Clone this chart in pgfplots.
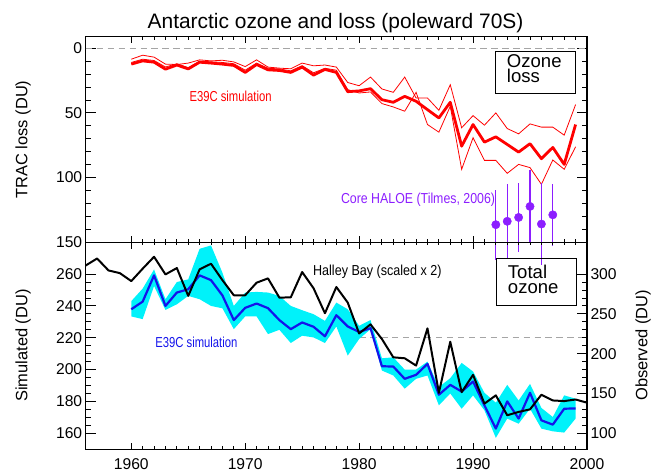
\documentclass[border=0pt]{standalone}
\usepackage{pgfplots}
\pgfplotsset{compat=1.18}
\usepackage{pgfplotstable}
\usepackage{fontspec}
\setmainfont{Liberation Sans}
\definecolor{haloe}{RGB}{140,30,255}
\definecolor{dashgray}{RGB}{165,165,165}
\definecolor{simblue}{RGB}{20,20,235}
\definecolor{band}{RGB}{0,242,250}

% TRAC ozone loss (DU): ensemble mean and two members
\pgfplotstableread{
year mean memA memB
1960 12.3 8.5 11.0
1961 9.8 5.4 8.5
1962 10.8 6.9 9.5
1963 16.2 12.3 14.5
1964 13.0 12.6 12.0
1965 16.0 11.5 15.0
1966 10.8 9.0 10.0
1967 11.5 9.8 10.5
1968 12.3 9.3 11.0
1969 13.3 10.6 12.0
1970 18.7 14.2 17.0
1971 12.6 9.0 11.5
1972 16.7 14.6 15.5
1973 17.2 15.4 16.0
1974 18.7 15.9 17.5
1975 14.6 11.5 13.5
1976 20.8 13.6 19.0
1977 16.4 13.0 15.5
1978 18.7 14.6 17.0
1979 33.6 26.5 32.0
1980 33.0 29.0 34.6
1981 31.3 22.3 33.8
1982 39.8 31.5 42.8
1983 41.8 34.1 45.4
1984 37.2 22.3 48.7
1985 41.0 38.5 34.1
1986 47.5 38.5 59.0
1987 53.9 48.0 64.9
1988 41.8 28.2 44.9
1989 75.7 61.5 93.6
1990 59.0 52.1 69.2
1991 72.6 59.5 86.7
1992 68.5 50.0 86.7
1993 74.4 62.1 96.7
1994 80.3 66.2 89.8
1995 73.8 58.5 92.3
1996 85.4 61.0 105.2
1997 76.7 61.0 86.4
1998 89.8 67.2 93.6
1999 59.0 43.6 76.2
}\losstab

% Core HALOE (Tilmes, 2006)
\pgfplotstableread{
year loss err
1992 136.4 27
1993 133.8 28.5
1994 130.8 26.5
1995 122.3 28
1996 135.9 32
1997 128.8 24
}\haloetab

% E39C simulated total ozone (DU): ensemble mean
\pgfplotstableread{
year mean
1960 237.9
1961 242.7
1962 259.2
1963 240.0
1964 248.4
1965 250.5
1966 259.2
1967 256.2
1968 246.6
1969 231.1
1970 238.8
1971 241.5
1972 238.6
1973 231.1
1974 225.4
1975 229.6
1976 226.9
1977 220.9
1978 234.2
1979 227.1
1980 223.6
1981 226.0
1982 202.1
1983 201.9
1984 194.2
1985 196.7
1986 203.6
1987 184.2
1988 190.4
1989 186.2
1990 192.5
1991 177.5
1992 162.9
1993 180.0
1994 169.2
1995 185.4
1996 168.1
1997 165.4
1998 175.4
1999 175.6
}\simtab

% E39C range: upper edge 1960->1999, then lower edge 1999->1960
\pgfplotstableread{
year val
1960 243.0
1961 250.9
1962 262.9
1963 244.2
1964 255.0
1965 256.7
1966 275.9
1967 278.0
1968 260.9
1969 240.0
1970 248.4
1971 248.8
1972 248.4
1973 246.3
1974 240.0
1975 237.3
1976 234.8
1977 230.6
1978 242.1
1979 237.9
1980 227.5
1981 231.1
1982 207.1
1983 207.7
1984 200.0
1985 200.0
1986 205.0
1987 189.0
1988 194.6
1989 204.2
1990 198.8
1991 185.4
1992 179.2
1993 190.4
1994 180.6
1995 191.0
1996 175.9
1997 170.2
1998 183.8
1999 181.7
1999 169.2
1998 160.4
1997 161.2
1996 162.9
1995 175.4
1994 166.0
1993 169.2
1992 157.1
1991 174.4
1990 183.8
1989 175.4
1988 185.0
1987 177.5
1986 196.3
1985 194.2
1984 188.0
1983 196.3
1982 199.4
1981 225.4
1980 219.2
1979 208.8
1978 227.1
1977 216.7
1976 220.2
1975 221.3
1974 216.7
1973 225.0
1972 222.3
1971 233.4
1970 233.4
1969 225.4
1968 238.5
1967 240.0
1966 244.2
1965 246.3
1964 241.0
1963 237.5
1962 252.5
1961 231.7
1960 233.4
}\bandtab

% Halley Bay observed total ozone (DU, right axis)
\pgfplotstableread{
year obs
1956 310.8
1957 319.6
1958 304.6
1959 301.2
1960 291.2
1961 306.8
1962 321.8
1963 299.6
1964 307.6
1965 272.6
1966 306.0
1967 313.0
1968 292.4
1969 273.4
1970 273.4
1971 289.2
1972 294.6
1973 270.4
1974 270.8
1975 302.6
1976 282.2
1977 250.8
1978 283.8
1979 264.2
1980 225.4
1981 236.8
1982 218.4
1983 195.4
1984 194.2
1985 185.0
1986 231.8
1987 150.8
1988 215.0
1989 151.6
1990 173.4
1991 137.2
1992 147.6
1993 122.6
1994 126.8
1995 130.0
1996 148.4
1997 141.2
1998 140.4
1999 142.4
2000 138.4
}\halleytab

\begin{document}
\begin{tikzpicture}
\pgfplotsset{panel/.style={
  scale only axis, width=503pt, anchor=south west,
  xmin=1956, xmax=2000,
  xtick={1960,1970,1980,1990,2000}, minor x tick num=9,
  tick align=inside,
  major tick length=10pt, minor tick length=5pt,
  xtick style={/pgfplots/major tick length=6.3pt,/pgfplots/minor tick length=3pt},
  axis line style={line width=1.1pt, black},
  every tick/.append style={line width=0.9pt, black},
  tick label style={font=\fontsize{15.7}{18}\selectfont},
  /pgf/number format/assume math mode=true,
  /pgf/number format/1000 sep={},
  xticklabel style={yshift=-5.5pt},
}}

% ---------------- top panel: ozone loss ----------------
\begin{axis}[panel, at={(86pt,230.9pt)}, height=206.4pt,
  y dir=reverse, ymin=-9, ymax=150,
  ytick={0,50,100,150}, minor y tick num=4,
  xticklabels=\empty, clip=false]
\addplot[dashgray, line width=0.9pt, dash pattern=on 6.5pt off 4.5pt] coordinates {(1956,0) (2000,0)};
\addplot[red, line width=0.8pt] table[x=year, y=memA]{\losstab};
\addplot[red, line width=0.8pt] table[x=year, y=memB]{\losstab};
\addplot[red, line width=2.8pt, line join=round] table[x=year, y=mean]{\losstab};
\addplot[haloe, only marks, mark=*, mark size=4.2pt,
  mark options={fill=haloe, draw=haloe},
  error bars/.cd, y dir=both, y explicit, error mark=none,
  error bar style={line width=1.1pt, haloe}]
  table[x=year, y=loss, y error=err]{\haloetab};
\end{axis}

% ---------------- bottom panel: total ozone ----------------
\begin{axis}[panel, at={(86pt,23.3pt)}, height=207.6pt,
  ymin=150, ymax=280, ytick={160,180,...,260}, minor y tick num=3,
  ytick pos=left]
\addplot[dashgray, line width=0.9pt, dash pattern=on 6.5pt off 4.5pt] coordinates {(1980,220) (2000,220)};
\addplot[fill=band, draw=none] table[x=year, y=val]{\bandtab} -- cycle;
\addplot[simblue, line width=2.2pt, line join=round] table[x=year, y=mean]{\simtab};
\end{axis}

\begin{axis}[panel, at={(86pt,23.3pt)}, height=207.6pt,
  ymin=80, ymax=340, ytick={100,150,...,300}, minor y tick num=4,
  axis y line*=right, axis x line=none]
\addplot[black, line width=2pt, line join=round] table[x=year, y=obs]{\halleytab};
\end{axis}

% ---------------- texts ----------------
\node[anchor=base, font=\fontsize{21}{24}\selectfont] at (336.7pt,445.7pt) {Antarctic ozone and loss (poleward 70S)};
\node[anchor=base, rotate=90, font=\fontsize{16.5}{18}\selectfont] at (27.5pt,334pt) {TRAC loss (DU)};
\node[anchor=base, rotate=90, font=\fontsize{16.5}{18}\selectfont] at (27.5pt,127.3pt) {Simulated (DU)};
\node[anchor=base, rotate=90, font=\fontsize{16.5}{18}\selectfont] at (649.5pt,127.3pt) {Observed (DU)};

\draw[line width=1pt] (497.3pt,380pt) rectangle (577.7pt,422.3pt);
\node[anchor=north west, align=left, inner sep=0pt, font=\fontsize{18.6}{15}\selectfont] at (508.5pt,419pt) {Ozone\\loss};

\draw[line width=1pt] (497.7pt,167.3pt) rectangle (578pt,214.7pt);
\node[anchor=north west, align=left, inner sep=0pt, font=\fontsize{18.6}{14.6}\selectfont] at (509.5pt,208pt) {Total\\ozone};

\node[anchor=base west, inner sep=0pt, red, font=\fontsize{14.5}{16}\selectfont] at (190pt,372.3pt) {\scalebox{0.78}[1]{E39C simulation}};
\node[anchor=base west, inner sep=0pt, haloe, font=\fontsize{14.5}{16}\selectfont] at (342pt,269.5pt) {\scalebox{0.855}[1]{Core HALOE (Tilmes, 2006)}};
\node[anchor=base west, inner sep=0pt, black, font=\fontsize{14.5}{16}\selectfont] at (314pt,197.3pt) {\scalebox{0.87}[1]{Halley Bay (scaled x 2)}};
\node[anchor=base west, inner sep=0pt, simblue, font=\fontsize{14.5}{16}\selectfont] at (155.7pt,125.7pt) {\scalebox{0.78}[1]{E39C simulation}};

\path (0pt,0pt) rectangle (654pt,474pt);
\end{tikzpicture}
\end{document}
